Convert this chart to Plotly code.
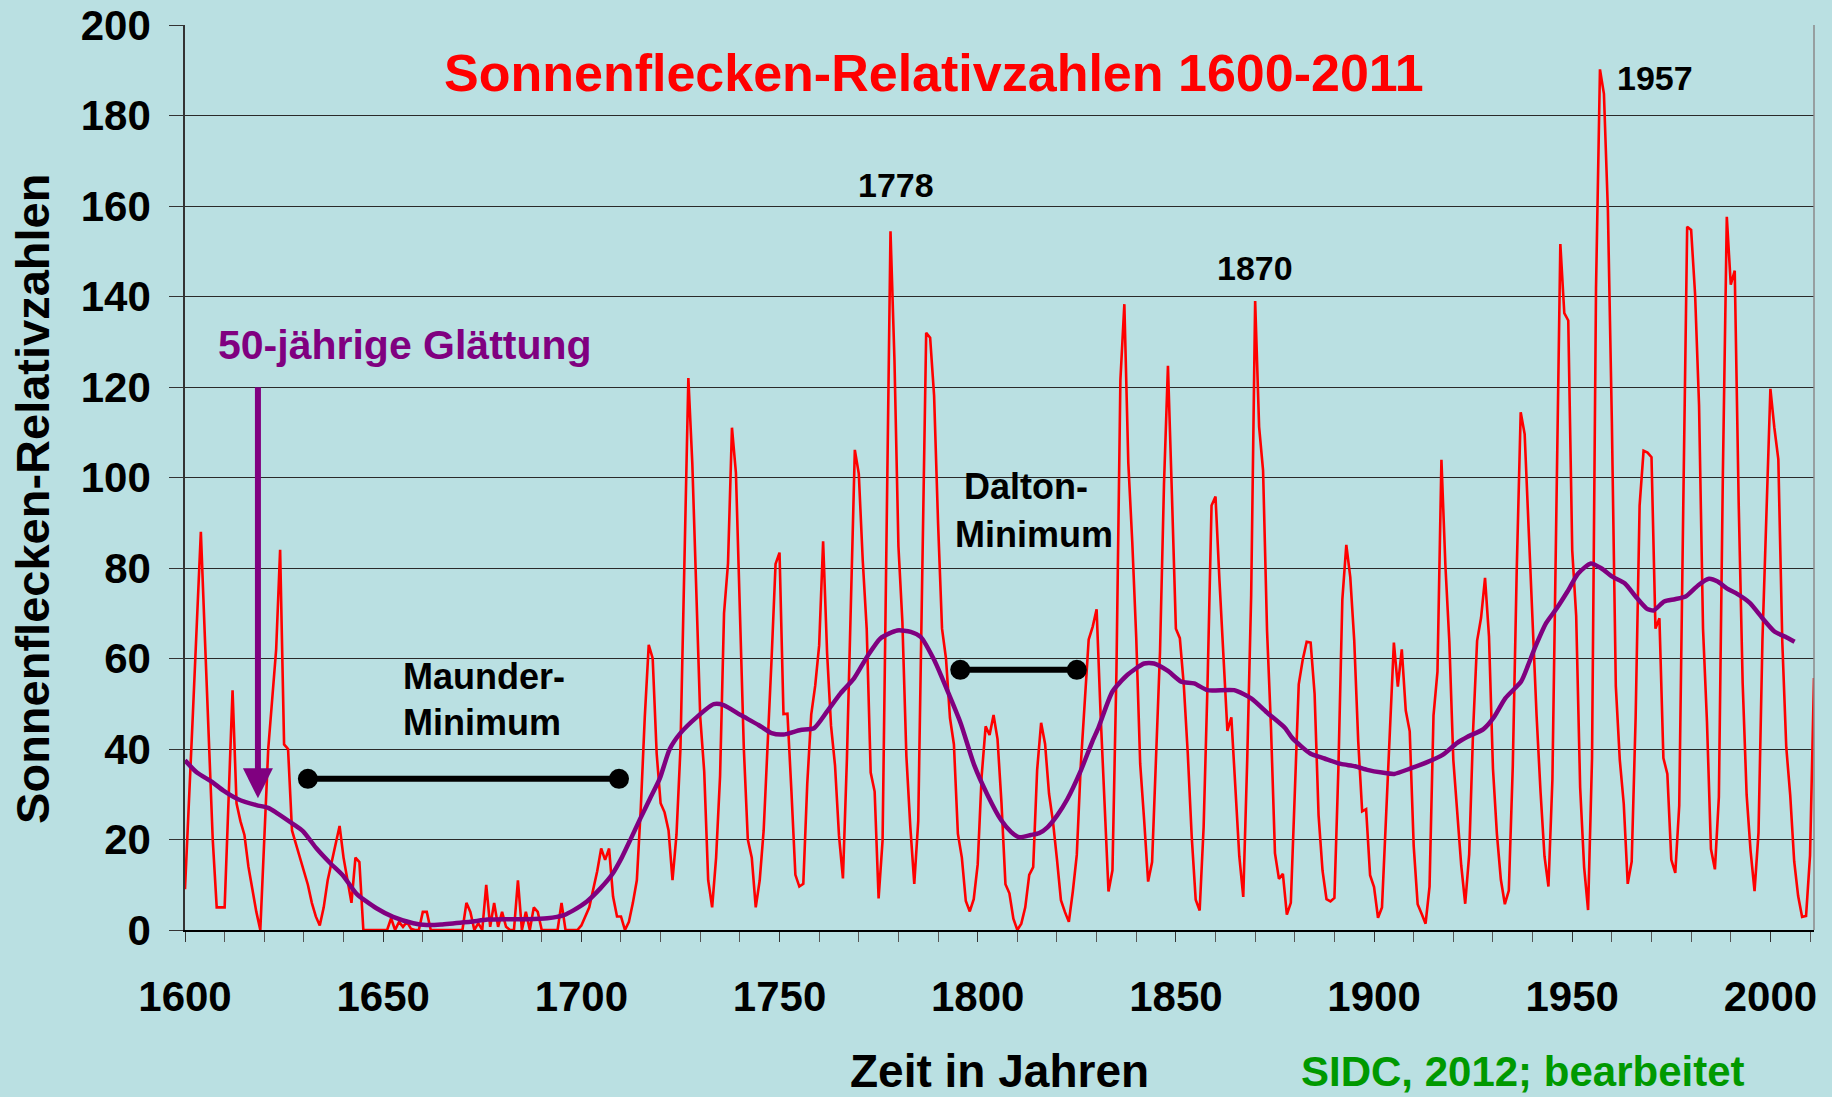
import plotly.graph_objects as go

# ---------------- data ----------------
years_early = list(range(1600, 1715))
ssn_early = [
    9, 27, 48, 68, 88, 65, 42, 20, 5, 5,          # 1600-1609
    5, 29, 53, 28, 24, 21, 14, 9, 4, 0,           # 1610-1619
    20, 40, 51, 62, 84, 41, 40, 22, 19, 16,       # 1620-1629
    13, 10, 6, 3, 1, 5, 11, 15, 19, 23,           # 1630-1639
    16, 11, 6, 16, 15, 0, 0, 0, 0, 0,             # 1640-1649
    0, 0, 2.6, 0, 1.8, 0.7, 1.8, 0.3, 0, 0,       # 1650-1659
    4, 4, 0, 0, 0, 0, 0, 0, 0, 0,                 # 1660-1669
    0, 6, 4, 0, 1.5, 0, 10, 0.7, 6, 0.7,          # 1670-1679
    4, 0.7, 0, 0, 11, 0, 4, 0, 5, 4,              # 1680-1689
    0, 0, 0, 0, 0, 6, 0, 0, 0, 0,                 # 1690-1699
    1, 3, 5, 9, 13, 18, 15.5, 18, 7.4, 3,         # 1700-1709
    3, 0, 1.8, 6, 11,                             # 1710-1714
]

years_sidc = list(range(1715, 2012))
ssn_sidc = [
    27, 47, 63, 60, 39, 28, 26, 22, 11, 21,
    40, 78, 122, 103, 73, 47, 35, 11, 5, 16,
    34, 70, 81, 111, 101, 73, 40, 20, 16, 5,
    11, 22, 40, 60, 80.9, 83.4, 47.7, 47.8, 30.7, 12.2,
    9.6, 10.2, 32.4, 47.6, 54.0, 62.9, 85.9, 61.2, 45.1, 36.4,
    20.9, 11.4, 37.8, 69.8, 106.1, 100.8, 81.6, 66.5, 34.8, 30.6,
    7.0, 19.8, 92.5, 154.4, 125.9, 84.8, 68.1, 38.5, 22.8, 10.2,
    24.1, 82.9, 132.0, 130.9, 118.1, 89.9, 66.6, 60.0, 46.9, 41.0,
    21.3, 16.0, 6.4, 4.1, 6.8, 14.5, 34.0, 45.0, 43.1, 47.5,
    42.2, 28.1, 10.1, 8.1, 2.5, 0.0, 1.4, 5.0, 12.2, 13.9,
    35.4, 45.8, 41.1, 30.1, 23.9, 15.6, 6.6, 4.0, 1.8, 8.5,
    16.6, 36.3, 49.6, 64.2, 67.0, 70.9, 47.8, 27.5, 8.5, 13.2,
    56.9, 121.5, 138.3, 103.2, 85.7, 64.6, 36.7, 24.2, 10.7, 15.0,
    40.1, 61.5, 98.5, 124.7, 96.3, 66.6, 64.5, 54.1, 39.0, 20.6,
    6.7, 4.3, 22.7, 54.8, 93.8, 95.8, 77.2, 59.1, 44.0, 47.0,
    30.5, 16.3, 7.3, 37.6, 74.0, 139.0, 111.2, 101.6, 66.2, 44.7,
    17.0, 11.3, 12.4, 3.4, 6.0, 32.3, 54.3, 59.7, 63.7, 63.5,
    52.2, 25.4, 13.1, 6.8, 6.3, 7.1, 35.6, 73.0, 85.1, 78.0,
    64.0, 41.8, 26.2, 26.7, 12.1, 9.5, 2.7, 5.0, 24.4, 42.0,
    63.5, 53.8, 62.0, 48.5, 43.9, 18.6, 5.7, 3.6, 1.4, 9.6,
    47.4, 57.1, 103.9, 80.6, 63.6, 37.6, 26.1, 14.2, 5.8, 16.7,
    44.3, 63.9, 69.0, 77.8, 64.9, 35.7, 21.2, 11.1, 5.7, 8.7,
    36.1, 79.7, 114.4, 109.6, 88.8, 67.8, 47.5, 30.6, 16.3, 9.6,
    33.2, 92.6, 151.6, 136.3, 134.7, 83.9, 69.4, 31.5, 13.9, 4.4,
    38.0, 141.7, 190.2, 184.8, 159.0, 112.3, 53.9, 37.6, 27.9, 10.2,
    15.1, 47.0, 93.8, 105.9, 105.5, 104.5, 66.6, 68.9, 38.0, 34.5,
    15.5, 12.6, 27.5, 92.5, 155.4, 154.7, 140.5, 115.9, 66.6, 45.9,
    17.9, 13.4, 29.4, 100.2, 157.6, 142.6, 145.7, 94.3, 54.6, 29.9,
    17.5, 8.6, 21.5, 64.3, 93.3, 119.6, 111.0, 104.0, 63.7, 40.4,
    29.8, 15.2, 7.5, 2.9, 3.1, 16.5, 55.7,
]

smooth_years = [
    1600, 1603, 1606.7, 1609.7, 1613.4, 1618, 1621, 1623.1, 1627.3, 1629.8,
    1633.2, 1636.6, 1639.9, 1643.3, 1648.3, 1652.5, 1657.6, 1661, 1664.6, 1668,
    1672, 1676.3, 1681.3, 1686.4, 1691.4, 1695.6, 1698.1, 1701.4, 1704.8, 1707.7,
    1710.2, 1712.5, 1714.8, 1717.3, 1719.8, 1722.3, 1725, 1729.2, 1733.4, 1735.9,
    1740.2, 1744.7, 1748, 1751, 1755.3, 1758.7, 1762, 1765.4, 1768.8, 1772.1,
    1775.5, 1779.7, 1783.1, 1785.6, 1789, 1792.3, 1795.7, 1799.1, 1802.5, 1805.9,
    1808.4, 1810.5, 1813.4, 1815.5, 1817.6, 1820.1, 1822.6, 1825.9, 1828.9, 1830.5,
    1834, 1837.8, 1842, 1844.5, 1847.9, 1851.3, 1854.6, 1858, 1864.7, 1869,
    1873.2, 1877.6, 1879.4, 1883.9, 1887.5, 1891.6, 1895.2, 1898.3, 1902, 1905.1,
    1909.2, 1913.7, 1917.3, 1920.9, 1923.6, 1927.6, 1930.3, 1933.1, 1937.1, 1938.9,
    1940.7, 1943.4, 1946.1, 1948.8, 1951.5, 1954.7, 1957.4, 1960.1, 1963.3, 1966,
    1968.7, 1970.5, 1973.2, 1975.9, 1978.6, 1981.8, 1984.5, 1986.7, 1989, 1991.2,
    1994.8, 1998, 2001.1, 2003.8, 2006.1,
]
smooth_vals = [
    37.5, 34.8, 32.8, 30.8, 28.9, 27.6, 27.0, 25.9, 23.4, 21.8,
    18.0, 14.8, 12.0, 8.0, 4.8, 2.9, 1.5, 1.1, 1.2, 1.5,
    1.8, 2.3, 2.4, 2.4, 2.6, 3.3, 4.4, 6.3, 9.2, 12.2,
    16.0, 20.2, 24.5, 29.0, 33.5, 40.0, 43.5, 47.1, 49.9, 49.7,
    47.5, 45.3, 43.5, 43.2, 44.2, 44.6, 48.3, 52.3, 55.6, 60.4,
    64.5, 66.2, 65.9, 64.8, 59.7, 53.0, 45.7, 36.5, 29.8, 24.3,
    21.7, 20.5, 21.0, 21.4, 22.7, 25.4, 28.9, 35.0, 41.6, 44.8,
    52.7, 56.4, 58.9, 58.9, 57.3, 54.9, 54.5, 53.0, 53.0, 51.2,
    47.9, 44.6, 42.4, 39.0, 37.9, 36.7, 36.2, 35.4, 34.8, 34.5,
    35.7, 37.2, 38.7, 41.3, 42.7, 44.4, 47.1, 51.2, 54.9, 58.6,
    62.6, 67.8, 71.1, 74.8, 78.8, 81.0, 79.9, 78.1, 76.6, 73.7,
    71.1, 70.6, 72.6, 73.1, 73.7, 76.2, 77.6, 77.0, 75.5, 74.5,
    72.3, 68.9, 65.9, 64.8, 63.7,
]

maunder_x = [1631, 1709.5]
maunder_y = [33.4, 33.4]
dalton_x = [1795.6, 1825]
dalton_y = [57.5, 57.5]

peak_labels = ["1778", "1870", "1957"]
peak_label_x = [1779.3, 1869.9, 1970.8]
peak_label_y = [164.7, 146.4, 188.2]

y_ticks = list(range(0, 201, 20))
x_ticks = list(range(1600, 2001, 50))

# ---------------- figure ----------------
BG = "#bae0e2"
FONT = "Liberation Sans, Arial, sans-serif"

years = years_early + years_sidc
ssn = ssn_early + ssn_sidc

fig = go.Figure()
fig.add_trace(go.Scatter(x=years, y=ssn, mode="lines",
                         line=dict(color="#ff0000", width=2.6),
                         hoverinfo="skip", showlegend=False))
fig.add_trace(go.Scatter(x=smooth_years, y=smooth_vals, mode="lines",
                         line=dict(color="#800080", width=4.5, shape="spline", smoothing=0.6),
                         hoverinfo="skip", showlegend=False))
for bx, by in ((maunder_x, maunder_y), (dalton_x, dalton_y)):
    fig.add_trace(go.Scatter(x=bx, y=by, mode="lines+markers",
                             line=dict(color="black", width=6),
                             marker=dict(color="black", size=20),
                             hoverinfo="skip", showlegend=False))


def txt(text, x, y, size, color="black", xanchor="center", xref="x", yref="y", **kw):
    return dict(text=text, x=x, y=y, xref=xref, yref=yref, xanchor=xanchor,
                yanchor="middle", showarrow=False,
                font=dict(family=FONT, size=size, color=color, weight="bold"), **kw)


annotations = [
    txt("Sonnenflecken-Relativzahlen 1600-2011", 0.4595, 0.947, 52, "#ff0000",
        xref="paper", yref="paper"),
    txt("Sonnenflecken-Relativzahlen", -0.0935, 0.476, 47, xref="paper", yref="paper",
        textangle=-90),
    txt("Zeit in Jahren", 0.5, -0.1558, 46, xref="paper", yref="paper"),
    txt("SIDC, 2012; bearbeitet", 0.684, -0.156, 42, "#009900", xanchor="left",
        xref="paper", yref="paper"),
    txt("50-jährige Glättung", 1607.8, 129.3, 41, "#800080", xanchor="left"),
    txt("Maunder-", 1654.4, 56.1, 36, xanchor="left"),
    txt("Minimum", 1654.4, 45.9, 36, xanchor="left"),
    txt("Dalton-", 1812.3, 98.1, 36),
    txt("Minimum", 1814.1, 87.4, 36),
    dict(text="", x=1618.4, y=29.1, ax=1618.4, ay=120.3, xref="x", yref="y",
         axref="x", ayref="y", showarrow=True, arrowhead=2, arrowsize=1,
         arrowwidth=6, arrowcolor="#800080", standoff=0),
]
for t, px, py in zip(peak_labels, peak_label_x, peak_label_y):
    annotations.append(txt(t, px, py, 34))

fig.update_layout(
    width=1832, height=1097, autosize=False,
    margin=dict(l=185, r=18, t=25, b=167, pad=0),
    paper_bgcolor=BG, plot_bgcolor=BG,
    annotations=annotations,
    shapes=[dict(type="line", xref="paper", yref="paper", x0=1, x1=1, y0=0, y1=1,
                 line=dict(color="#8a8a8a", width=1.5))],
    xaxis=dict(range=[1600, 2011], tickmode="array", tickvals=x_ticks,
               ticktext=[str(v) for v in x_ticks], automargin=False,
               showgrid=False, zeroline=False, showline=True, linecolor="black", linewidth=1.5,
               ticks="outside", ticklen=10, tickwidth=1, tickcolor="#333333",
               minor=dict(dtick=10, ticks="outside", ticklen=10, tickwidth=1, tickcolor="#555555",
                          showgrid=False),
               ticklabelstandoff=19,
               tickfont=dict(family=FONT, size=42, color="black", weight="bold")),
    yaxis=dict(range=[0, 200], tickmode="array", tickvals=y_ticks, automargin=False,
               showgrid=True, gridcolor="#2a2a2a", gridwidth=1,
               zeroline=False, showline=True, linecolor="#333333", linewidth=1.5,
               ticks="outside", ticklen=14, tickwidth=1, tickcolor="#333333",
               ticklabelstandoff=10,
               tickfont=dict(family=FONT, size=42, color="black", weight="bold")),
)

fig.write_html("out.html", config={"displayModeBar": False},
               post_script="document.body.style.margin='0';document.body.style.overflow='hidden';")
